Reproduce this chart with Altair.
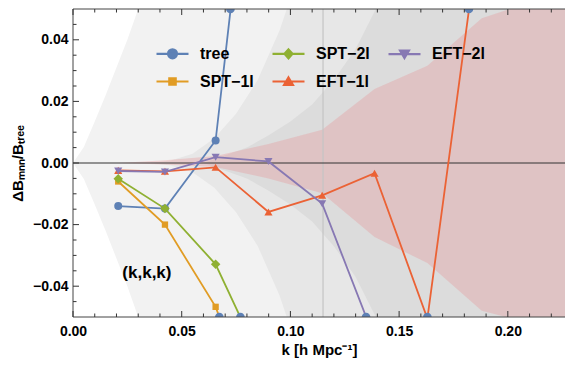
import altair as alt
import pandas as pd

# ---------------- data ----------------
k_vals = [0.0208, 0.0423, 0.0656, 0.0899, 0.1146, 0.1387, 0.1630, 0.1880]
tree_vals = [-0.0140, -0.0148, 0.0073, 0.1576]
spt1_vals = [-0.0060, -0.0200, -0.0467, -0.0930]
spt2_vals = [-0.0051, -0.0148, -0.0329, -0.0695]
eft1_vals = [-0.0024, -0.0027, -0.0014, -0.0159, -0.0105, -0.0033, -0.0505, 0.0805]
eft2_vals = [-0.0026, -0.0029, 0.0019, 0.0005, -0.0132, -0.0570]

series_names = ["tree", "SPT−1l", "SPT−2l", "EFT−1l", "EFT−2l"]
series_values = [tree_vals, spt1_vals, spt2_vals, eft1_vals, eft2_vals]
series_colors = ["#5E81B5", "#E19C24", "#8FB032", "#EB6235", "#8778B3"]
series_shapes = ["circle", "square", "diamond", "triangle-up", "triangle-down"]
series_sizes = [64, 40, 90, 66, 66]

# markers where curves leave the frame
clip_k = [0.0673, 0.0724, 0.0770, 0.1348, 0.1630, 0.1821]
clip_v = [-0.05, 0.05, -0.05, -0.05, -0.05, 0.05]

# grey bands (half widths, symmetric about zero)
band1_k = [0.0, 0.005, 0.01, 0.015, 0.02, 0.025, 0.03, 0.035, 0.23]
band1_w = [0.0, 0.0052, 0.0135, 0.022, 0.031, 0.0400, 0.0500, 0.061, 0.3]
band2_k = [0.035, 0.045, 0.055, 0.065, 0.075, 0.085, 0.095, 0.105, 0.23]
band2_w = [0.0, 0.0008, 0.003, 0.008, 0.016, 0.027, 0.043, 0.064, 0.5]
band3_k = [0.06, 0.07, 0.08, 0.09, 0.10, 0.11, 0.12, 0.13, 0.14, 0.15, 0.23]
band3_w = [0.0, 0.0025, 0.005, 0.009, 0.0135, 0.019, 0.027, 0.037, 0.051, 0.066, 0.4]

# pink band
pink_k = [0.0208, 0.0423, 0.0656, 0.0899, 0.1146, 0.1387, 0.1630, 0.1880, 0.2120, 0.23]
pink_hi = [0.0, 0.0009, 0.0023, 0.0062, 0.0108, 0.0240, 0.0316, 0.0470, 0.0526, 0.056]
pink_lo = [0.0, -0.0005, -0.0013, -0.0050, -0.0098, -0.0240, -0.0325, -0.0480, -0.0523, -0.054]

vline_k = [0.115]
zero_v = [0.0]
frame_k = [0.0]
frame_v = [-0.05, 0.05]

x_major = [0.0, 0.05, 0.10, 0.15, 0.20]
x_minor = [0.01, 0.02, 0.03, 0.04, 0.06, 0.07, 0.08, 0.09, 0.11, 0.12, 0.13, 0.14,
           0.16, 0.17, 0.18, 0.19, 0.21, 0.22]
y_major = [-0.04, -0.02, 0.0, 0.02, 0.04]
y_minor = [-0.045, -0.035, -0.03, -0.025, -0.015, -0.01, -0.005,
           0.005, 0.01, 0.015, 0.025, 0.03, 0.035, 0.045]

note_k = [0.034]
note_v = [-0.0358]
note_text = ["(k,k,k)"]

# ---------------- chart ----------------
W, H = 492, 308
FONT = "Liberation Sans"

xs = alt.Scale(domain=[0, 0.2263], nice=False, zero=False)
ys = alt.Scale(domain=[-0.05, 0.05], nice=False, zero=False)
X = alt.X("k:Q", scale=xs, axis=alt.Axis(
    values=x_major, format=".2f", title="k [h Mpc⁻¹]", ticks=False, tickSize=0,
    domain=False, grid=False, labelPadding=7, titlePadding=4, labelFlush=False))
Y = alt.Y("v:Q", scale=ys, axis=alt.Axis(
    values=y_major, format=".2f", title="ΔBₘₙₙ/Bₜᵣₑₑ", ticks=False, tickSize=0,
    domain=False, grid=False, labelPadding=5, titlePadding=7, labelFlush=False))
Y2 = alt.Y2("v2:Q")

def band_df(ks, ws):
    return pd.DataFrame({"k": ks, "v": [-w for w in ws], "v2": ws})

layers = []
for ks, ws, col in [(band1_k, band1_w, "#F2F2F2"), (band2_k, band2_w, "#E7E7E7"),
                    (band3_k, band3_w, "#DCDCDC")]:
    layers.append(alt.Chart(band_df(ks, ws)).mark_area(clip=True, color=col)
                  .encode(x=X, y=Y, y2=Y2))

pink_df = pd.DataFrame({"k": pink_k, "v": pink_lo, "v2": pink_hi})
layers.append(alt.Chart(pink_df).mark_area(clip=True, color="#E88084", opacity=0.27)
              .encode(x=X, y=Y, y2=Y2))

layers.append(alt.Chart(pd.DataFrame({"k": vline_k})).mark_rule(color="#C4C4C4", strokeWidth=1.2)
              .encode(x=X))
layers.append(alt.Chart(pd.DataFrame({"v": zero_v})).mark_rule(color="#333333", strokeWidth=1)
              .encode(y=Y))

rows = []
for name, vals in zip(series_names, series_values):
    for kk, vv in zip(k_vals, vals):
        rows.append({"series": name, "k": kk, "v": vv})
df = pd.DataFrame(rows)

for name, col, shp, sz in zip(series_names, series_colors, series_shapes, series_sizes):
    sub = df[df.series == name]
    layers.append(alt.Chart(sub).mark_line(clip=True, color=col, strokeWidth=1.8)
                  .encode(x=X, y=Y))
    layers.append(alt.Chart(sub).mark_point(clip=True, filled=True, color=col, shape=shp,
                                            size=sz, opacity=1)
                  .encode(x=X, y=Y))

clip_df = pd.DataFrame({"k": clip_k, "v": clip_v})
layers.append(alt.Chart(clip_df).mark_point(clip=True, filled=True, color="#5E81B5",
                                            size=75, opacity=1).encode(x=X, y=Y))

# frame (left, bottom, top)
fcol = "#444444"
layers.append(alt.Chart(pd.DataFrame({"k": frame_k})).mark_rule(color=fcol, strokeWidth=1)
              .encode(x=X))
layers.append(alt.Chart(pd.DataFrame({"v": frame_v})).mark_rule(color=fcol, strokeWidth=1)
              .encode(y=Y))

# frame ticks (inward)
tick_col = "#333333"
def xticks(vals, L):
    d = pd.DataFrame({"k": vals})
    return [
        alt.Chart(d).mark_rule(color=tick_col, strokeWidth=1)
        .encode(x=X, y=alt.value(H), y2=alt.value(H - L)),
        alt.Chart(d).mark_rule(color=tick_col, strokeWidth=1)
        .encode(x=X, y=alt.value(0), y2=alt.value(L)),
    ]
def yticks(vals, L):
    d = pd.DataFrame({"v": vals})
    return [
        alt.Chart(d).mark_rule(color=tick_col, strokeWidth=1)
        .encode(y=Y, x=alt.value(0), x2=alt.value(L)),
    ]
layers += xticks(x_major, 6) + xticks(x_minor, 3.5) + yticks(y_major, 6) + yticks(y_minor, 3.5)

# annotation
layers.append(alt.Chart(pd.DataFrame({"k": note_k, "v": note_v, "t": note_text}))
              .mark_text(font=FONT, fontSize=17, fontWeight="bold", color="black")
              .encode(x=X, y=Y, text="t:N"))

# legend (invisible points carrying the legend)
legend_order = series_names
legend_colors = series_colors
P = {
    "circle": "M-2,0L2,0M0.56,0A0.56,0.56,0,1,1,-0.56,0A0.56,0.56,0,1,1,0.56,0Z",
    "square": "M-2,0L2,0M-0.4,-0.4L0.4,-0.4L0.4,0.4L-0.4,0.4Z",
    "diamond": "M-2,0L2,0M0,-0.55L0.5,0L0,0.55L-0.5,0Z",
    "triangle-up": "M-2,0L2,0M0,-0.5L0.55,0.42L-0.55,0.42Z",
    "triangle-down": "M-2,0L2,0M0,0.5L0.55,-0.42L-0.55,-0.42Z",
}
legend_paths = [P[s] for s in series_shapes]

leg = alt.Legend(orient="none", legendX=90, legendY=35, columns=3, columnPadding=14,
                 rowPadding=9, symbolSize=256, symbolStrokeWidth=2.2, symbolOpacity=1,
                 labelFont=FONT, labelFontSize=16, labelFontWeight="bold",
                 labelColor="black", labelOffset=18, title=None, padding=0)
layers.append(alt.Chart(df).mark_point(filled=True, opacity=0, clip=True).encode(
    x=X, y=Y,
    shape=alt.Shape("series:N", scale=alt.Scale(domain=legend_order, range=legend_paths), legend=leg),
    fill=alt.Fill("series:N", scale=alt.Scale(domain=legend_order, range=legend_colors), legend=leg),
    stroke=alt.Stroke("series:N", scale=alt.Scale(domain=legend_order, range=legend_colors), legend=leg),
))

chart = alt.layer(*layers).properties(
    width=W, height=H,
    autosize=alt.AutoSizeParams(type="none"),
    padding={"left": 65, "top": 1, "right": 0, "bottom": 41},
).configure_view(strokeOpacity=0).configure_axis(
    labelFont=FONT, labelFontSize=14, labelFontWeight="bold", labelColor="black",
    titleFont=FONT, titleFontSize=15, titleFontWeight="bold", titleColor="black",
)

chart.save("out.html", embed_options={"renderer": "svg", "actions": False})
